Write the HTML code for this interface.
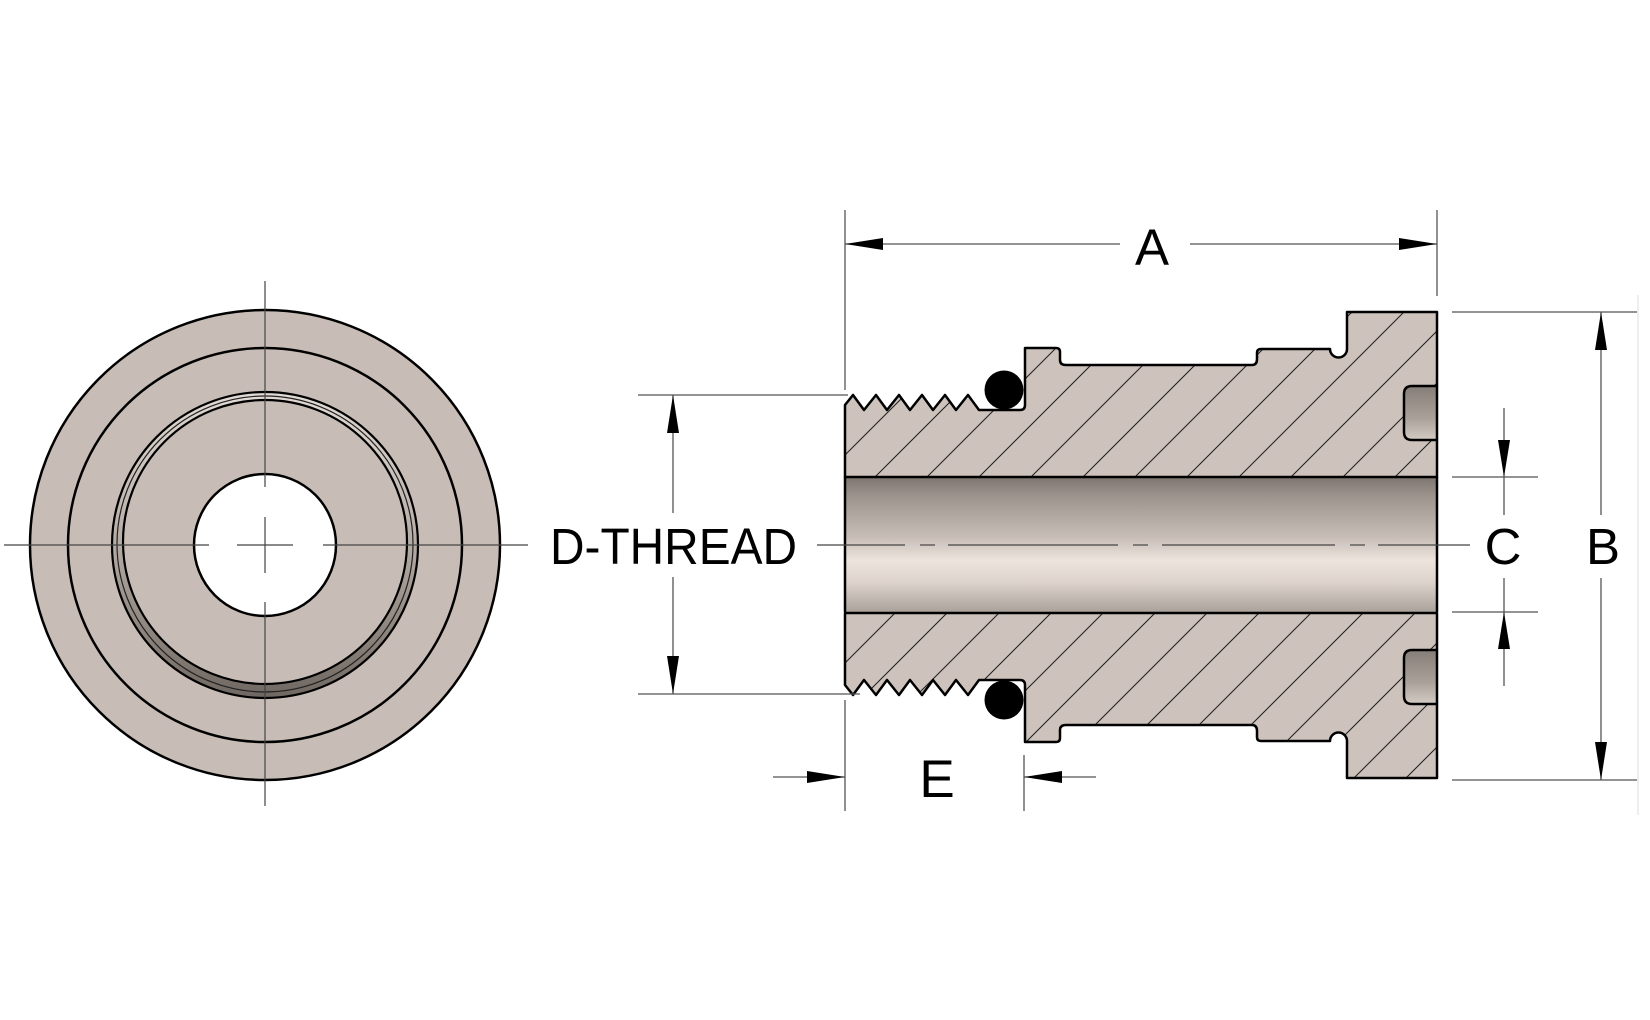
<!DOCTYPE html>
<html><head><meta charset="utf-8"><style>
html,body{margin:0;padding:0;background:#fff;}
svg{display:block;}
text{font-family:"Liberation Sans",sans-serif;fill:#000;}
</style></head><body>
<svg width="1650" height="1020" viewBox="0 0 1650 1020" xmlns="http://www.w3.org/2000/svg">
<defs>
<linearGradient id="bore" x1="0" y1="0" x2="0" y2="1">
<stop offset="0" stop-color="#7d756f"/>
<stop offset="0.15" stop-color="#9d958e"/>
<stop offset="0.45" stop-color="#c8beb7"/>
<stop offset="0.62" stop-color="#ece4dd"/>
<stop offset="0.78" stop-color="#ddd3cc"/>
<stop offset="1" stop-color="#aaa29b"/>
</linearGradient>
<linearGradient id="ring" x1="0" y1="0" x2="0" y2="1">
<stop offset="0" stop-color="#e2dad4"/>
<stop offset="0.5" stop-color="#b5aba4"/>
<stop offset="1" stop-color="#6f6761"/>
</linearGradient>
<linearGradient id="pock" x1="0" y1="0" x2="0" y2="1">
<stop offset="0" stop-color="#857d77"/>
<stop offset="0.6" stop-color="#aaa19a"/>
<stop offset="1" stop-color="#d4cbc4"/>
</linearGradient>
<pattern id="hatch" patternUnits="userSpaceOnUse" width="52" height="52">
<path d="M-2,54 L54,-2 M-28,28 L28,-28 M24,80 L80,24" stroke="#222" stroke-width="1.1"/>
</pattern>
<path id="top" d="M845,477 L845,405 L853,395 L864,410 L876,395 L887,410 L899,395 L910,410 L922,395 L933,410 L945,395 L956,410 L968,395 L979,410 L1020,410 Q1025,410 1025,405 L1025,348 L1056,348 Q1060,348 1060,352 L1060,360 Q1060,365 1066,365 L1252,365 Q1257,365 1257,359 L1257,353 Q1257,349 1261,349 L1330,349 A8,8 0 0 0 1347,349 L1347,312 L1437,312 L1437,477 Z"/>
<clipPath id="sec">
<use href="#top"/>
<use href="#top" transform="translate(0,1090) scale(1,-1)"/>
</clipPath>
</defs>

<!-- LEFT VIEW -->
<circle cx="265" cy="545" r="235" fill="#c8bdb6" stroke="#000" stroke-width="2.5"/>
<circle cx="265" cy="545" r="197" fill="none" stroke="#000" stroke-width="2.5"/>
<circle cx="265" cy="545" r="153" fill="url(#ring)" stroke="#000" stroke-width="2.2"/>
<circle cx="265" cy="544" r="148" fill="none" stroke="#222" stroke-width="1.2"/>
<circle cx="265" cy="542" r="142" fill="#c8bdb6" stroke="#000" stroke-width="2.2"/>
<circle cx="265" cy="545" r="71" fill="#fff" stroke="#000" stroke-width="2.5"/>
<g stroke="#444" stroke-width="1.2">
<line x1="4" y1="545" x2="209" y2="545"/><line x1="237" y1="545" x2="293" y2="545"/><line x1="323" y1="545" x2="528" y2="545"/>
<line x1="265" y1="281" x2="265" y2="487"/><line x1="265" y1="517" x2="265" y2="573"/><line x1="265" y1="602" x2="265" y2="806"/>
</g>

<!-- RIGHT VIEW section -->
<g clip-path="url(#sec)">
<rect x="840" y="300" width="610" height="490" fill="#cdc3bc"/>
<rect x="840" y="300" width="610" height="490" fill="url(#hatch)"/>
</g>
<rect x="845" y="477" width="592" height="135" fill="url(#bore)"/>
<path d="M1437,386 L1412,386 Q1404,386 1404,394 L1404,432 Q1404,440 1412,440 L1437,440" fill="url(#pock)" stroke="#000" stroke-width="2.5"/>
<path d="M1437,650 L1412,650 Q1404,650 1404,658 L1404,696 Q1404,704 1412,704 L1437,704" fill="url(#pock)" stroke="#000" stroke-width="2.5"/>
<g fill="none" stroke="#000" stroke-width="2.5" stroke-linejoin="round">
<use href="#top"/>
<use href="#top" transform="translate(0,1090) scale(1,-1)"/>
<line x1="845" y1="477" x2="845" y2="612"/>
<line x1="1437" y1="477" x2="1437" y2="612"/>
</g>
<circle cx="1004" cy="390" r="19.5" fill="#000"/>
<circle cx="1004" cy="700" r="19.5" fill="#000"/>

<!-- centerline -->
<g stroke="#444" stroke-width="1.2">
<line x1="817" y1="545" x2="905" y2="545"/>
<line x1="920" y1="545" x2="935" y2="545"/>
<line x1="948" y1="545" x2="1118" y2="545"/>
<line x1="1133" y1="545" x2="1148" y2="545"/>
<line x1="1162" y1="545" x2="1335" y2="545"/>
<line x1="1350" y1="545" x2="1365" y2="545"/>
<line x1="1378" y1="545" x2="1470" y2="545"/>
</g>

<g stroke="#555" stroke-width="1.3" fill="none">
<line x1="845" y1="210" x2="845" y2="390"/>
<line x1="1437" y1="210" x2="1437" y2="296"/>
<line x1="845" y1="244" x2="1120" y2="244"/>
<line x1="1190" y1="244" x2="1437" y2="244"/>
<line x1="638" y1="395" x2="848" y2="395"/>
<line x1="638" y1="694" x2="860" y2="694"/>
<line x1="673" y1="395" x2="673" y2="513"/>
<line x1="673" y1="577" x2="673" y2="694"/>
<line x1="1452" y1="477" x2="1538" y2="477"/>
<line x1="1452" y1="612" x2="1538" y2="612"/>
<line x1="1504" y1="408" x2="1504" y2="515"/>
<line x1="1504" y1="578" x2="1504" y2="686"/>
<line x1="1452" y1="312" x2="1637" y2="312"/>
<line x1="1452" y1="780" x2="1637" y2="780"/>
<line x1="1601" y1="312" x2="1601" y2="515"/>
<line x1="1601" y1="578" x2="1601" y2="780"/>
<line x1="845" y1="700" x2="845" y2="811"/>
<line x1="1024" y1="755" x2="1024" y2="811"/>
<line x1="773" y1="777" x2="845" y2="777"/>
<line x1="1024" y1="777" x2="1096" y2="777"/>
</g>
<line x1="1638" y1="295" x2="1638" y2="815" stroke="#eeeeee" stroke-width="2"/>

<g fill="#000">
<polygon points="845,244 883,238 883,250"/>
<polygon points="1437,244 1399,238 1399,250"/>
<polygon points="673,395 667,433 679,433"/>
<polygon points="673,694 667,656 679,656"/>
<polygon points="1504,477 1498,440 1510,440"/>
<polygon points="1504,612 1498,649 1510,649"/>
<polygon points="1601,312 1595,350 1607,350"/>
<polygon points="1601,780 1595,742 1607,742"/>
<polygon points="845,777 807,771 807,783"/>
<polygon points="1024,777 1062,771 1062,783"/>
</g>

<text x="1152" y="265" font-size="51" text-anchor="middle">A</text>
<text x="550" y="564" font-size="51" textLength="247" lengthAdjust="spacingAndGlyphs">D-THREAD</text>
<text x="1503" y="564" font-size="51" text-anchor="middle">C</text>
<text x="1603" y="564" font-size="51" text-anchor="middle">B</text>
<text x="937" y="797" font-size="53" text-anchor="middle">E</text>
</svg>
</body></html>
